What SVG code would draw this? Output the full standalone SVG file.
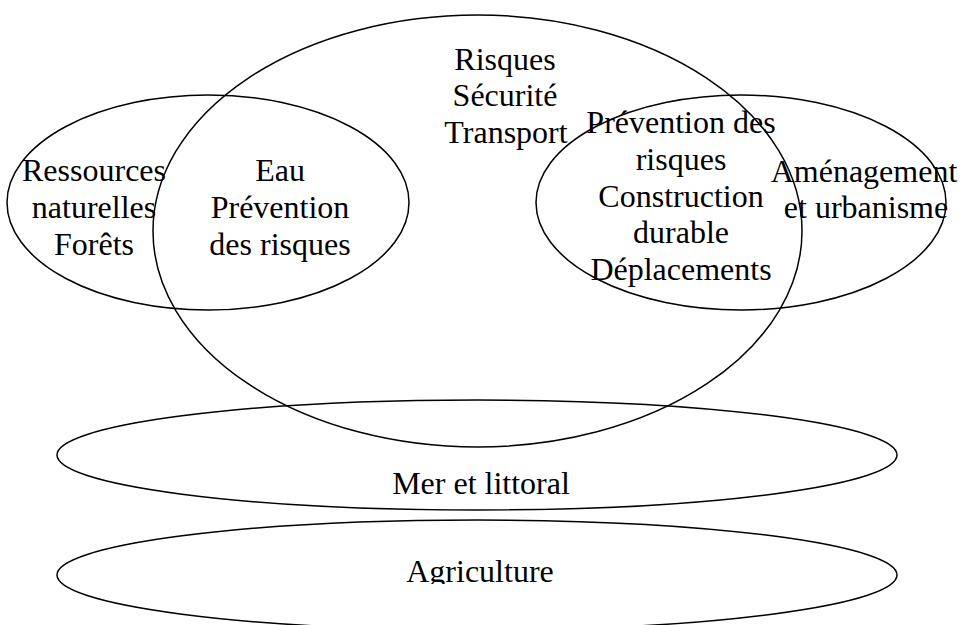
<svg xmlns="http://www.w3.org/2000/svg" width="964" height="625" viewBox="0 0 964 625">
<style>
.shape{fill:none;stroke:#000;stroke-width:1.5}
.lbl{font-family:"Liberation Serif","Times New Roman",serif;font-size:32px;fill:#000;text-anchor:middle}
</style>
<defs>
<clipPath id="agriClip"><rect x="0" y="0" width="964" height="584"/></clipPath>
</defs>
<rect x="0" y="0" width="964" height="625" fill="#fff"/>
<g id="risques">
<ellipse class="shape" cx="477.5" cy="231" rx="324.5" ry="216"/>
<text class="lbl" x="505" y="70">Risques</text>
<text class="lbl" x="505" y="106">Sécurité</text>
<text class="lbl" x="506" y="143">Transport</text>
</g>
<g id="ressources">
<ellipse class="shape" cx="208" cy="202.5" rx="201" ry="107.5"/>
<text class="lbl" x="94" y="181">Ressources</text>
<text class="lbl" x="94" y="218">naturelles</text>
<text class="lbl" x="94" y="255">Forêts</text>
<text class="lbl" x="280" y="181">Eau</text>
<text class="lbl" x="280" y="218">Prévention</text>
<text class="lbl" x="280" y="255">des risques</text>
</g>
<g id="amenagement">
<ellipse class="shape" cx="741" cy="202.5" rx="205" ry="107.5"/>
<text class="lbl" x="681" y="133">Prévention des</text>
<text class="lbl" x="681" y="170">risques</text>
<text class="lbl" x="681" y="207">Construction</text>
<text class="lbl" x="681" y="243">durable</text>
<text class="lbl" x="681" y="280">Déplacements</text>
<text class="lbl" x="864" y="182">Aménagement</text>
<text class="lbl" x="866" y="218">et urbanisme</text>
</g>
<g id="mer">
<ellipse class="shape" cx="477" cy="455" rx="420" ry="55"/>
<text class="lbl" x="481" y="494">Mer et littoral</text>
</g>
<g id="agriculture">
<ellipse class="shape" cx="477" cy="575" rx="420" ry="55"/>
<text class="lbl" x="480" y="582" clip-path="url(#agriClip)">Agriculture</text>
</g>
<g id="connectors"/>
</svg>
